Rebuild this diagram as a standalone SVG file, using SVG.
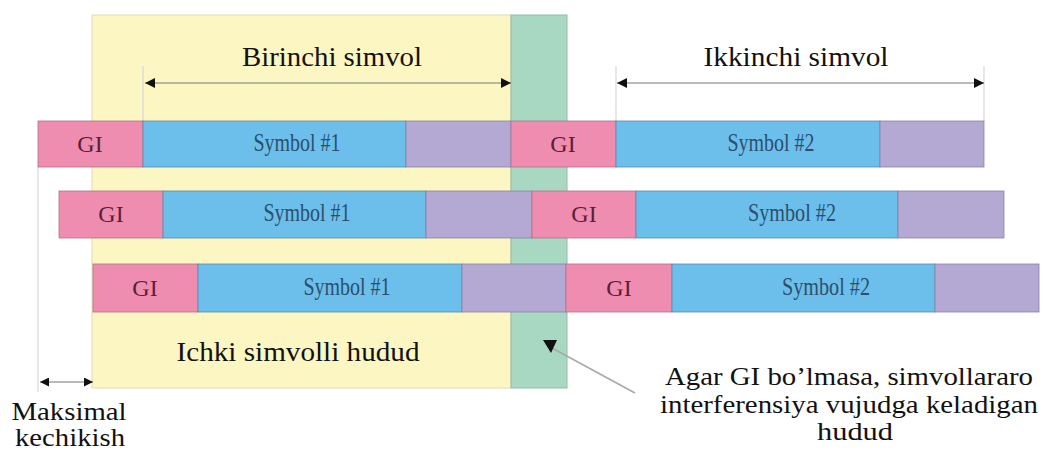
<svg xmlns="http://www.w3.org/2000/svg" width="1046" height="453" viewBox="0 0 1046 453">
<style>
.gi{fill:#ef8db0;stroke:#b07088;stroke-width:0.8}
.sym{fill:#6cbfeb;stroke:#5a8aaa;stroke-width:0.8}
.cp{fill:#b3a9d3;stroke:#8a82a8;stroke-width:0.8}
.gil{font-family:"Liberation Serif","Times New Roman",serif;font-size:24px;fill:#5a1f38;text-anchor:middle}
.syl{font-family:"Liberation Serif","Times New Roman",serif;font-size:25px;fill:#2b4f6e;text-anchor:middle}
.t{font-family:"Liberation Serif","Times New Roman",serif;font-size:28px;fill:#111;text-anchor:middle}
.s{font-family:"Liberation Serif","Times New Roman",serif;font-size:25px;fill:#111;text-anchor:middle}
.dim{stroke:#777;stroke-width:1.2;fill:none}
.guide{stroke:#d8d8d8;stroke-width:1.2}
</style>
<defs>
<marker id="ah" viewBox="0 0 10 10" refX="10" refY="5" markerWidth="10" markerHeight="10" markerUnits="userSpaceOnUse" orient="auto-start-reverse">
<path d="M0,0 L10,5 L0,10 z" fill="#111"/>
</marker>
<marker id="ahs" viewBox="0 0 10 10" refX="10" refY="5" markerWidth="9" markerHeight="9" markerUnits="userSpaceOnUse" orient="auto-start-reverse">
<path d="M0,0 L10,5 L0,10 z" fill="#111"/>
</marker>
</defs>
<rect width="1046" height="453" fill="#ffffff"/>
<g id="regions">
<rect x="92" y="15" width="419" height="373" fill="#fbf6c2" stroke="#e2dcb0" stroke-width="1"/>
<rect x="511" y="15" width="56" height="373" fill="#a9d8c2" stroke="#94bca8" stroke-width="1"/>
</g>
<g id="guides">
<line class="guide" x1="143" y1="66" x2="143" y2="121"/>
<line class="guide" x1="616" y1="66" x2="616" y2="121"/>
<line class="guide" x1="984" y1="66" x2="984" y2="121"/>
<line class="guide" x1="38" y1="167" x2="38" y2="392"/>
</g>
<g id="row1">
<rect class="gi" x="38" y="121" width="105" height="46"/>
<rect class="sym" x="143" y="121" width="263" height="46"/>
<rect class="cp" x="406" y="121" width="105" height="46"/>
<rect class="gi" x="511" y="121" width="105" height="46"/>
<rect class="sym" x="616" y="121" width="264" height="46"/>
<rect class="cp" x="880" y="121" width="104" height="46"/>
<text class="gil" x="90" y="152">GI</text>
<text class="syl" x="297" y="151" textLength="87" lengthAdjust="spacingAndGlyphs">Symbol #1</text>
<text class="gil" x="563" y="152">GI</text>
<text class="syl" x="771" y="151" textLength="87" lengthAdjust="spacingAndGlyphs">Symbol #2</text>
</g>
<g id="row2">
<rect class="gi" x="59" y="191" width="104" height="47"/>
<rect class="sym" x="163" y="191" width="263" height="47"/>
<rect class="cp" x="426" y="191" width="106" height="47"/>
<rect class="gi" x="532" y="191" width="104" height="47"/>
<rect class="sym" x="636" y="191" width="262" height="47"/>
<rect class="cp" x="898" y="191" width="106" height="47"/>
<text class="gil" x="111" y="222">GI</text>
<text class="syl" x="307" y="221" textLength="87" lengthAdjust="spacingAndGlyphs">Symbol #1</text>
<text class="gil" x="584" y="222">GI</text>
<text class="syl" x="792" y="221" textLength="88" lengthAdjust="spacingAndGlyphs">Symbol #2</text>
</g>
<g id="row3">
<rect class="gi" x="93" y="264" width="105" height="48"/>
<rect class="sym" x="198" y="264" width="264" height="48"/>
<rect class="cp" x="462" y="264" width="104" height="48"/>
<rect class="gi" x="566" y="264" width="106" height="48"/>
<rect class="sym" x="672" y="264" width="263" height="48"/>
<rect class="cp" x="935" y="264" width="104" height="48"/>
<text class="gil" x="145" y="296">GI</text>
<text class="syl" x="347" y="295" textLength="87" lengthAdjust="spacingAndGlyphs">Symbol #1</text>
<text class="gil" x="619" y="296">GI</text>
<text class="syl" x="826" y="295" textLength="88" lengthAdjust="spacingAndGlyphs">Symbol #2</text>
</g>
<g id="connectors">
<line class="dim" x1="145" y1="83" x2="511" y2="83" marker-start="url(#ah)" marker-end="url(#ah)"/>
<line class="dim" x1="617" y1="83" x2="984" y2="83" marker-start="url(#ah)" marker-end="url(#ah)"/>
<line class="dim" x1="40" y1="382" x2="93" y2="382" marker-start="url(#ahs)" marker-end="url(#ahs)" stroke="#999"/>
<line x1="552" y1="348" x2="635" y2="393" stroke="#a8a8a8" stroke-width="1.5"/>
<polygon points="543,340 557,340 551,353" fill="#111"/>
</g>
<g id="labels">
<text class="t" x="332" y="66" textLength="180" lengthAdjust="spacingAndGlyphs">Birinchi simvol</text>
<text class="t" x="796" y="66" textLength="185" lengthAdjust="spacingAndGlyphs">Ikkinchi simvol</text>
<text class="t" x="298" y="361" textLength="243" lengthAdjust="spacingAndGlyphs">Ichki simvolli hudud</text>
<text class="s" x="69" y="420" textLength="115" lengthAdjust="spacingAndGlyphs">Maksimal</text>
<text class="s" x="70" y="446" textLength="110" lengthAdjust="spacingAndGlyphs">kechikish</text>
<text class="s" x="849" y="385" textLength="368" lengthAdjust="spacingAndGlyphs">Agar GI bo’lmasa, simvollararo</text>
<text class="s" x="849" y="413" textLength="378" lengthAdjust="spacingAndGlyphs">interferensiya vujudga keladigan</text>
<text class="s" x="855" y="440" textLength="76" lengthAdjust="spacingAndGlyphs">hudud</text>
</g>
</svg>
